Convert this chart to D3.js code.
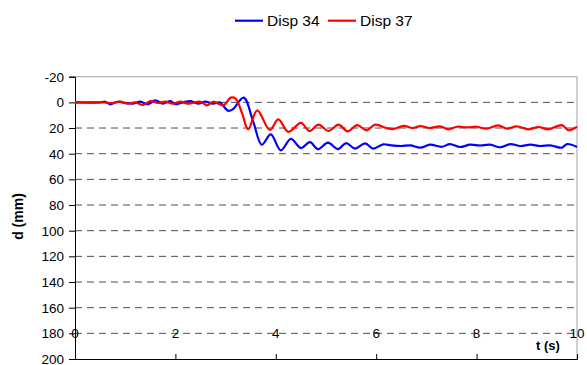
<!DOCTYPE html>
<html>
<head>
<meta charset="utf-8">
<script src="https://cdn.jsdelivr.net/npm/d3@7"></script>
<style>
  html, body { margin: 0; padding: 0; background: #fff; }
  svg { display: block; font-family: "Liberation Sans", Arial, sans-serif; }
</style>
</head>
<body>
<svg id="chart" width="587" height="365"></svg>
<script>
// Displacement histories (time in s, displacement in mm)
const seriesNames = ["Disp 34", "Disp 37"];
const seriesColors = ["#0000ff", "#ff0000"];

const disp34 = [
  [0, 0], [0.5, 0], [0.6, -0.5], [0.7, 1.5], [0.85, -0.5], [1.0, 0.5], [1.15, 1],
  [1.3, -0.5], [1.45, 1.5], [1.6, -1.5], [1.75, 1], [1.9, -1], [2.0, 1.5], [2.15, 0],
  [2.3, -1], [2.45, 1], [2.6, -0.5], [2.75, 1], [2.88, 0], [3.05, 6.5], [3.14, 5.5],
  [3.36, -3.7], [3.55, 15], [3.72, 33], [3.9, 25], [4.1, 37.4], [4.3, 28.5],
  [4.5, 35.6], [4.68, 31], [4.84, 36.4], [5.04, 31.4], [5.24, 36.4], [5.4, 31.7],
  [5.58, 36], [5.78, 32], [5.94, 36], [6.14, 32.7], [6.3, 33.5], [6.5, 34],
  [6.68, 33.5], [6.88, 35.3], [7.07, 33], [7.31, 34.6], [7.47, 32.5], [7.67, 34.8],
  [7.87, 33], [8.07, 33.6], [8.27, 33], [8.47, 35], [8.67, 32.5], [8.87, 34],
  [9.07, 33], [9.27, 34], [9.47, 33.5], [9.7, 35.3], [9.8, 32.5], [10.0, 34.7]
];

const disp37 = [
  [0, 0], [0.55, 0], [0.75, 0.5], [0.9, -0.5], [1.05, 1], [1.2, 0], [1.36, 2],
  [1.5, -1], [1.65, 0.5], [1.8, -0.5], [1.95, 1], [2.1, -0.5], [2.25, 1], [2.5, -0.5],
  [2.63, 2.3], [2.75, -0.5], [2.96, 2.3], [3.1, -3.7], [3.2, -3], [3.33, 8.8],
  [3.45, 21], [3.63, 6.2], [3.88, 21.5], [4.05, 13.3], [4.25, 23], [4.5, 16],
  [4.67, 22.3], [4.85, 17.4], [5.05, 22.3], [5.25, 17.4], [5.43, 22.6], [5.62, 17.7],
  [5.81, 21.8], [5.98, 17.4], [6.2, 20], [6.34, 20.8], [6.55, 18.4], [6.72, 20],
  [6.88, 18.5], [7.07, 20], [7.27, 18.7], [7.44, 21], [7.61, 19], [7.81, 19.5],
  [8.0, 19], [8.2, 20.5], [8.43, 18], [8.6, 20.5], [8.8, 18.7], [9.03, 21],
  [9.23, 19.2], [9.43, 21], [9.7, 17.7], [9.83, 21.7], [10.0, 19]
];

const xTicks = [0, 2, 4, 6, 8, 10];
const yTicks = [-20, 0, 20, 40, 60, 80, 100, 120, 140, 160, 180, 200];
const xTitle = "t (s)";
const yTitle = "d (mm)";

const svg = d3.select("#chart");
const plot = { left: 75, right: 577, top: 76.7, bottom: 359 };

const x = d3.scaleLinear().domain([0, 10]).range([plot.left, plot.right]);
const y = d3.scaleLinear().domain([-20, 200]).range([plot.top, plot.bottom]);

// dashed gridlines
svg.append("g").selectAll("line")
  .data(yTicks.filter(v => v > -20 && v < 200))
  .join("line")
  .attr("x1", plot.left).attr("x2", plot.right)
  .attr("y1", d => y(d)).attr("y2", d => y(d))
  .attr("stroke", "#4d4d4d").attr("stroke-width", 1)
  .attr("stroke-dasharray", "7,5");

// grey frame on top and right
svg.append("line")
  .attr("x1", plot.left).attr("x2", plot.right)
  .attr("y1", y(-20)).attr("y2", y(-20))
  .attr("stroke", "#a0a0a0").attr("stroke-width", 1);
svg.append("line")
  .attr("x1", plot.right).attr("x2", plot.right)
  .attr("y1", y(-20)).attr("y2", y(200))
  .attr("stroke", "#a0a0a0").attr("stroke-width", 1);

// y axis (left); plain hyphen for negative values
const yAxis = d3.axisLeft(y).tickValues(yTicks).tickSize(6).tickPadding(5)
  .tickFormat(d => String(d));
const gy = svg.append("g").attr("transform", `translate(${plot.left},0)`).call(yAxis);
gy.select(".domain").attr("stroke", "#000");
gy.selectAll(".tick line").attr("stroke", "#000");
gy.selectAll(".tick text")
  .attr("font-size", "13.5px").attr("fill", "#000")
  .attr("font-family", "'Liberation Sans', Arial, sans-serif");

// x axis (bottom) with inside ticks
const xAxis = d3.axisBottom(x).tickValues(xTicks).tickSize(-5).tickFormat("");
const gx = svg.append("g").attr("transform", `translate(0,${plot.bottom})`).call(xAxis);
gx.select(".domain").attr("stroke", "#000");
gx.selectAll(".tick line").attr("stroke", "#000");

// x tick labels sit on the 180 line
svg.append("g").selectAll("text")
  .data(xTicks)
  .join("text")
  .attr("x", d => x(d))
  .attr("y", y(180))
  .attr("dy", "0.36em")
  .attr("text-anchor", "middle")
  .attr("font-size", "13.5px")
  .attr("fill", "#000")
  .text(d => d);

// series lines
const line = d3.line()
  .x(d => x(d[0]))
  .y(d => y(d[1]))
  .curve(d3.curveCatmullRom.alpha(0.5));

[disp34, disp37].forEach((data, i) => {
  svg.append("path")
    .datum(data)
    .attr("fill", "none")
    .attr("stroke", seriesColors[i])
    .attr("stroke-width", 2.2)
    .attr("stroke-linejoin", "round")
    .attr("d", line);
});

// axis titles
svg.append("text")
  .attr("x", 548).attr("y", 350)
  .attr("text-anchor", "middle")
  .attr("font-size", "13px").attr("font-weight", "bold")
  .text(xTitle);

svg.append("text")
  .attr("transform", "translate(23,216.5) rotate(-90)")
  .attr("text-anchor", "middle")
  .attr("font-size", "14px").attr("font-weight", "bold")
  .text(yTitle);

// legend
const legendItems = [
  { name: seriesNames[0], color: seriesColors[0], x0: 235, tx: 267 },
  { name: seriesNames[1], color: seriesColors[1], x0: 328, tx: 360 }
];
const lg = svg.append("g");
legendItems.forEach(it => {
  lg.append("line")
    .attr("x1", it.x0).attr("x2", it.x0 + 28)
    .attr("y1", 20.7).attr("y2", 20.7)
    .attr("stroke", it.color).attr("stroke-width", 2.2);
  lg.append("text")
    .attr("x", it.tx).attr("y", 26)
    .attr("font-size", "15.5px").attr("fill", "#000")
    .text(it.name);
});
</script>
</body>
</html>
